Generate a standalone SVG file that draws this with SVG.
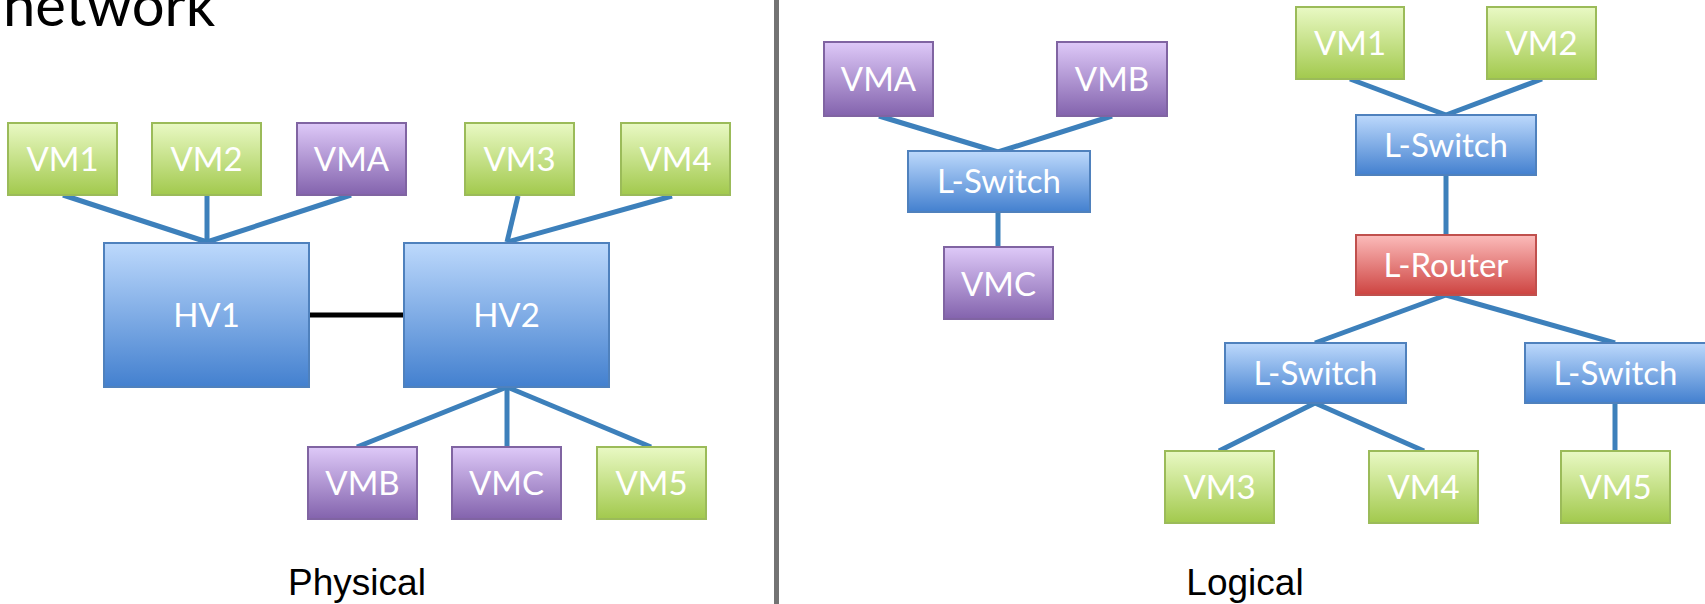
<svg xmlns="http://www.w3.org/2000/svg" width="1705" height="604" viewBox="0 0 1705 604">
<defs>
<linearGradient id="gGreen" x1="0" y1="0" x2="0" y2="1"><stop offset="0" stop-color="#e9f9c4"/><stop offset="1" stop-color="#a2c94d"/></linearGradient>
<linearGradient id="gPurple" x1="0" y1="0" x2="0" y2="1"><stop offset="0" stop-color="#dec9f8"/><stop offset="1" stop-color="#8363ad"/></linearGradient>
<linearGradient id="gBlue" x1="0" y1="0" x2="0" y2="1"><stop offset="0" stop-color="#bdd9fc"/><stop offset="1" stop-color="#4380cf"/></linearGradient>
<linearGradient id="gRed" x1="0" y1="0" x2="0" y2="1"><stop offset="0" stop-color="#fcbcbb"/><stop offset="1" stop-color="#cd4340"/></linearGradient>
</defs>
<style>
.g{fill:url(#gGreen);stroke:#9bbb59;stroke-width:2}
.p{fill:url(#gPurple);stroke:#8064a2;stroke-width:2}
.b{fill:url(#gBlue);stroke:#4f81bd;stroke-width:2}
.r{fill:url(#gRed);stroke:#c0504d;stroke-width:2}
.t{font-family:Lato,"Open Sans",sans-serif;font-size:33px;fill:#ffffff;text-anchor:middle}
.c line{stroke:#3d80bb;stroke-width:5}
.lbl{font-family:"Liberation Sans",Arial,sans-serif;font-size:37px;fill:#000;text-anchor:middle}
</style>
<rect width="1705" height="604" fill="#ffffff"/>
<text x="3" y="26" font-family="Lato,'Open Sans',sans-serif" font-size="58" fill="#000">network</text>
<line x1="776.5" y1="0" x2="776.5" y2="604" stroke="#737373" stroke-width="5"/>
<g class="c" id="connectors">
<line x1="63" y1="195" x2="207" y2="242"/>
<line x1="207" y1="195" x2="207" y2="242"/>
<line x1="351" y1="195" x2="207" y2="242"/>
<line x1="518" y1="196" x2="507" y2="242"/>
<line x1="672" y1="196" x2="507" y2="242"/>
<line x1="507" y1="387" x2="357" y2="447"/>
<line x1="507" y1="387" x2="507" y2="447"/>
<line x1="507" y1="387" x2="651" y2="447"/>
<line x1="309" y1="315" x2="404" y2="315" style="stroke:#000"/>
<line x1="879" y1="116" x2="998" y2="152"/>
<line x1="1112" y1="116" x2="998" y2="152"/>
<line x1="998" y1="212" x2="998" y2="247"/>
<line x1="1350" y1="79" x2="1446" y2="115"/>
<line x1="1542" y1="79" x2="1446" y2="115"/>
<line x1="1446" y1="175" x2="1446" y2="235"/>
<line x1="1446" y1="295" x2="1315" y2="343"/>
<line x1="1446" y1="295" x2="1615" y2="343"/>
<line x1="1315" y1="403" x2="1219" y2="451"/>
<line x1="1315" y1="403" x2="1424" y2="451"/>
<line x1="1615" y1="403" x2="1615" y2="451"/>
</g>
<g id="p-vm1"><rect class="g" x="8" y="123" width="109" height="72"/><text class="t" x="62.5" y="171">VM1</text></g>
<g id="p-vm2"><rect class="g" x="152" y="123" width="109" height="72"/><text class="t" x="206.5" y="171">VM2</text></g>
<g id="p-vma"><rect class="p" x="297" y="123" width="109" height="72"/><text class="t" x="351.5" y="171">VMA</text></g>
<g id="p-vm3"><rect class="g" x="465" y="123" width="109" height="72"/><text class="t" x="519.5" y="171">VM3</text></g>
<g id="p-vm4"><rect class="g" x="621" y="123" width="109" height="72"/><text class="t" x="675.5" y="171">VM4</text></g>
<g id="p-hv1"><rect class="b" x="104" y="243" width="205" height="144"/><text class="t" x="206.5" y="327">HV1</text></g>
<g id="p-hv2"><rect class="b" x="404" y="243" width="205" height="144"/><text class="t" x="506.5" y="327">HV2</text></g>
<g id="p-vmb"><rect class="p" x="308" y="447" width="109" height="72"/><text class="t" x="362.5" y="495">VMB</text></g>
<g id="p-vmc"><rect class="p" x="452" y="447" width="109" height="72"/><text class="t" x="506.5" y="495">VMC</text></g>
<g id="p-vm5"><rect class="g" x="597" y="447" width="109" height="72"/><text class="t" x="651.5" y="495">VM5</text></g>
<text class="lbl" x="357" y="595">Physical</text>
<g id="l-vma"><rect class="p" x="824" y="42" width="109" height="74"/><text class="t" x="878.5" y="91">VMA</text></g>
<g id="l-vmb"><rect class="p" x="1057" y="42" width="110" height="74"/><text class="t" x="1112" y="91">VMB</text></g>
<g id="l-switch1"><rect class="b" x="908" y="151" width="182" height="61"/><text class="t" x="999" y="193">L-Switch</text></g>
<g id="l-vmc"><rect class="p" x="944" y="247" width="109" height="72"/><text class="t" x="998.5" y="296">VMC</text></g>
<g id="l-vm1"><rect class="g" x="1296" y="7" width="108" height="72"/><text class="t" x="1350" y="55">VM1</text></g>
<g id="l-vm2"><rect class="g" x="1487" y="7" width="109" height="72"/><text class="t" x="1541.5" y="55">VM2</text></g>
<g id="l-switch2"><rect class="b" x="1356" y="115" width="180" height="60"/><text class="t" x="1446" y="157">L-Switch</text></g>
<g id="l-router"><rect class="r" x="1356" y="235" width="180" height="60"/><text class="t" x="1446" y="277">L-Router</text></g>
<g id="l-switch3"><rect class="b" x="1225" y="343" width="181" height="60"/><text class="t" x="1315.5" y="385">L-Switch</text></g>
<g id="l-switch4"><rect class="b" x="1525" y="343" width="181" height="60"/><text class="t" x="1615.5" y="385">L-Switch</text></g>
<g id="l-vm3"><rect class="g" x="1165" y="451" width="109" height="72"/><text class="t" x="1219.5" y="499">VM3</text></g>
<g id="l-vm4"><rect class="g" x="1369" y="451" width="109" height="72"/><text class="t" x="1423.5" y="499">VM4</text></g>
<g id="l-vm5"><rect class="g" x="1561" y="451" width="109" height="72"/><text class="t" x="1615.5" y="499">VM5</text></g>
<text class="lbl" x="1245" y="595">Logical</text>
</svg>
